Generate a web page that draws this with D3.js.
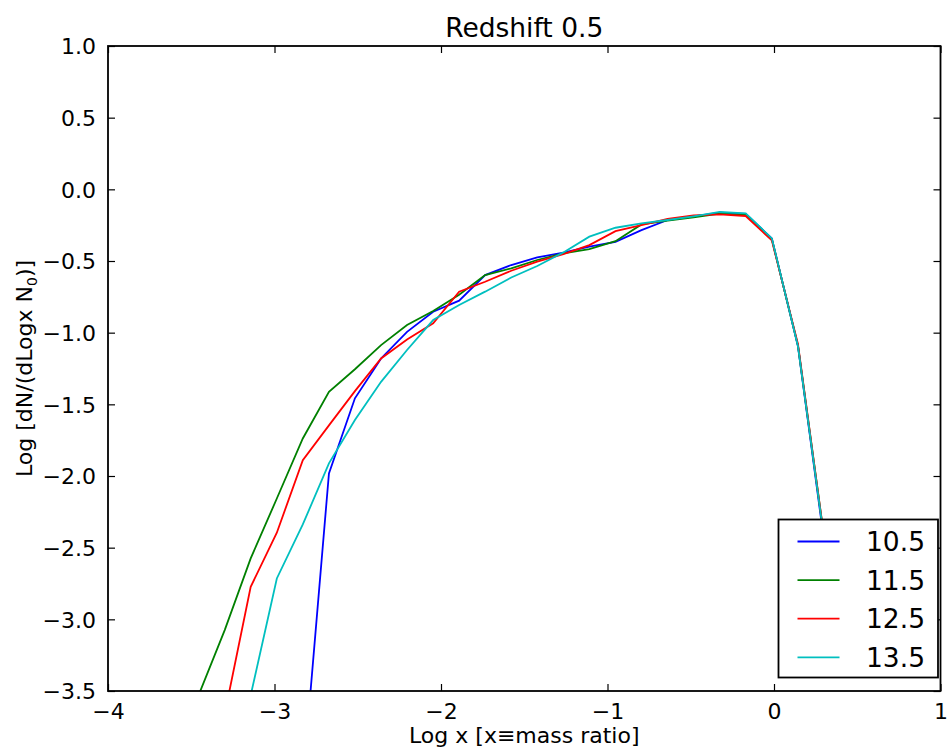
<!DOCTYPE html>
<html><head><meta charset="utf-8">
<script src="https://cdn.jsdelivr.net/npm/d3@7"></script>
<style>body{margin:0;background:#fff}svg{display:block}text{font-family:"DejaVu Sans",sans-serif}</style>
</head><body><svg id="c" width="949" height="751"></svg>
<script>
const xValues = [-3.612,-3.456,-3.299,-3.143,-2.986,-2.830,-2.673,-2.517,-2.360,-2.204,-2.047,-1.891,-1.735,-1.578,-1.422,-1.265,-1.109,-0.952,-0.796,-0.639,-0.483,-0.326,-0.170,-0.013,0.144,0.300];
const seriesNames = ["10.5","11.5","12.5","13.5"];
const s105 = [null,null,null,null,null,-4.14,-1.982,-1.458,-1.18,-0.994,-0.854,-0.777,-0.598,-0.528,-0.475,-0.442,-0.40,-0.366,-0.285,-0.214,-0.188,-0.163,-0.172,-0.342,-1.095,-2.45];
const s115 = [-4.1,-3.53,-3.075,-2.575,-2.157,-1.738,-1.412,-1.255,-1.087,-0.947,-0.849,-0.735,-0.598,-0.551,-0.493,-0.447,-0.417,-0.362,-0.245,-0.219,-0.195,-0.17,-0.178,-0.348,-1.09,-2.42];
const s125 = [null,null,-3.66,-2.773,-2.396,-1.889,-1.647,-1.408,-1.18,-1.047,-0.935,-0.714,-0.645,-0.568,-0.505,-0.452,-0.389,-0.292,-0.249,-0.207,-0.181,-0.175,-0.186,-0.356,-1.08,-2.42];
const s135 = [null,null,null,-3.53,-2.715,-2.338,-1.912,-1.61,-1.343,-1.121,-0.912,-0.807,-0.714,-0.615,-0.535,-0.44,-0.33,-0.268,-0.238,-0.214,-0.188,-0.158,-0.167,-0.342,-1.095,-2.43];
const xTicks = [-4,-3,-2,-1,0,1];
const yTicks = [1.0,0.5,0.0,-0.5,-1.0,-1.5,-2.0,-2.5,-3.0,-3.5];
const colors = ["#0000ff","#008000","#ff0000","#00bfbf"];
const seriesValues = [s105,s115,s125,s135];

const L=108,R=940.5,T=46,B=691;
const svg=d3.select("#c");
const x=d3.scaleLinear().domain([-4,1]).range([L,R]);
const y=d3.scaleLinear().domain([-3.5,1.0]).range([B,T]);
const fmtMinus = s => s.replace("-","\u2212");

svg.append("defs").append("clipPath").attr("id","clip").append("rect")
  .attr("x",L).attr("y",T).attr("width",R-L).attr("height",B-T);

const line=d3.line().defined(d=>d[1]!==null).x(d=>x(d[0])).y(d=>y(d[1]));
const g=svg.append("g").attr("clip-path","url(#clip)");
seriesValues.forEach((vals,i)=>{
  g.append("path").datum(xValues.map((xv,j)=>[xv,vals[j]]))
   .attr("d",line).attr("fill","none").attr("stroke",colors[i]).attr("stroke-width",1.8)
   .attr("stroke-linejoin","miter");
});

// axes with inward ticks
const tk=7;
const xb=svg.append("g").attr("transform",`translate(0,${B})`)
  .call(d3.axisBottom(x).tickValues(xTicks).tickSizeInner(-tk).tickSizeOuter(0).tickPadding(12).tickFormat(d=>fmtMinus(d3.format("d")(d))));
const xt=svg.append("g").attr("transform",`translate(0,${T})`)
  .call(d3.axisTop(x).tickValues(xTicks).tickSizeInner(-tk).tickSizeOuter(0).tickFormat(""));
const yl=svg.append("g").attr("transform",`translate(${L},0)`)
  .call(d3.axisLeft(y).tickValues(yTicks).tickSizeInner(-tk).tickSizeOuter(0).tickPadding(12).tickFormat(d=>fmtMinus(d3.format(".1f")(d))));
const yr=svg.append("g").attr("transform",`translate(${R},0)`)
  .call(d3.axisRight(y).tickValues(yTicks).tickSizeInner(-tk).tickSizeOuter(0).tickFormat(""));
[xb,xt,yl,yr].forEach(a=>{a.select(".domain").remove();a.selectAll(".tick line").attr("stroke","#000").attr("stroke-width",1.2);});
xb.selectAll(".tick text").attr("font-size",22).attr("fill","#000").attr("font-family","DejaVu Sans");
yl.selectAll(".tick text").attr("font-size",22).attr("fill","#000").attr("font-family","DejaVu Sans").attr("dy","0.35em");

svg.append("rect").attr("x",L).attr("y",T).attr("width",R-L).attr("height",B-T)
  .attr("fill","none").attr("stroke","#000").attr("stroke-width",1.8);

// title and labels
svg.append("text").attr("x",(L+R)/2).attr("y",37).attr("text-anchor","middle").attr("font-size",26.5).text("Redshift 0.5");
svg.append("text").attr("x",(L+R)/2).attr("y",743).attr("text-anchor","middle").attr("font-size",22).text("Log x [x\u2261mass ratio]");
const ylab=svg.append("text").attr("transform",`translate(32,${(T+B)/2}) rotate(-90)`).attr("text-anchor","middle").attr("font-size",22);
ylab.append("tspan").text("Log [dN/(dLogx N");
ylab.append("tspan").attr("font-size",14).attr("dy",5).text("0");
ylab.append("tspan").attr("dy",-5).text(")]");

// legend
const lg=svg.append("g");
lg.append("rect").attr("x",778.5).attr("y",519.5).attr("width",159.5).attr("height",158)
  .attr("fill","#fff").attr("stroke","#000").attr("stroke-width",1.8);
seriesNames.forEach((n,i)=>{
  const cy=541.5+i*38.6;
  lg.append("line").attr("x1",797.5).attr("x2",839.5).attr("y1",cy).attr("y2",cy).attr("stroke",colors[i]).attr("stroke-width",1.8);
  lg.append("text").attr("x",866).attr("y",cy).attr("dy","0.36em").attr("font-size",26.5).text(n);
});
</script></body></html>
